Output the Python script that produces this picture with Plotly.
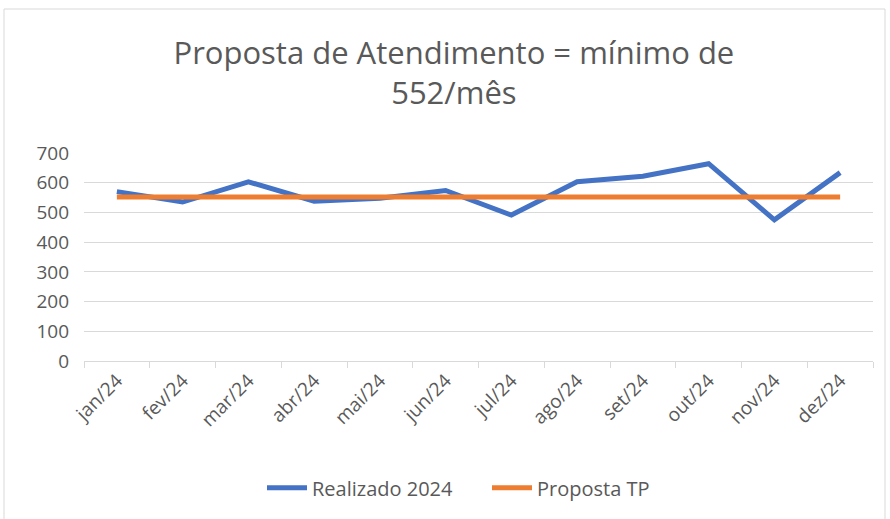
import plotly.graph_objects as go

months = ["jan/24", "fev/24", "mar/24", "abr/24", "mai/24", "jun/24",
          "jul/24", "ago/24", "set/24", "out/24", "nov/24", "dez/24"]
realizado = [570, 535, 603, 538, 548, 574, 491, 603, 622, 664, 475, 634]
proposta = [552] * 12
y_ticks = [0, 100, 200, 300, 400, 500, 600, 700]

FONT = "Open Sans"
GREY = "#595959"

fig = go.Figure()
fig.add_trace(go.Scatter(x=months, y=realizado, mode="lines", name="Realizado 2024",
                         line=dict(color="#4472C4", width=5)))
fig.add_trace(go.Scatter(x=months, y=proposta, mode="lines", name="Proposta TP",
                         line=dict(color="#ED7D31", width=5)))

fig.update_layout(
    width=890, height=519,
    margin=dict(l=84, r=17, t=153, b=158, autoexpand=False),
    paper_bgcolor="white", plot_bgcolor="white",
    font=dict(family=FONT, color=GREY, size=18),
    title=dict(text="Proposta de Atendimento = mínimo de<br>552/mês",
               x=0.51, xanchor="center", xref="container",
               y=1 - 64 / 519, yanchor="middle", yref="container",
               font=dict(family=FONT, size=31, color=GREY)),
    showlegend=True,
    legend=dict(orientation="h", x=262 / 890, xanchor="left", xref="container",
                y=0.06, yanchor="middle", yref="container",
                font=dict(family=FONT, size=20, color=GREY),
                itemwidth=40, tracegroupgap=0, entrywidth=170),
    xaxis=dict(type="category", range=[-0.5, 11.5], showgrid=False, automargin=False,
               showline=True, linecolor="#d9d9d9", linewidth=1,
               ticks="outside", tickson="boundaries", ticklen=6, tickcolor="#d9d9d9",
               tickangle=-45, tickfont=dict(family=FONT, size=19, color=GREY)),
    yaxis=dict(range=[0, 700], tickvals=y_ticks, showgrid=True, gridcolor="#d9d9d9",
               gridwidth=1, zeroline=False, showline=False, ticks="", automargin=False,
               ticklabelstandoff=14, tickfont=dict(family=FONT, size=19, color=GREY)),
    shapes=[dict(type="rect", xref="paper", yref="paper",
                 x0=(4 - 84) / 789, x1=(885 - 84) / 789,
                 y0=(361 - 530) / 208, y1=(361 - 9) / 208,
                 line=dict(color="#d9d9d9", width=1), fillcolor="rgba(0,0,0,0)",
                 layer="below")],
)

fig.write_html("out.html", config={"displayModeBar": False},
               post_script="document.body.style.margin='0';")
